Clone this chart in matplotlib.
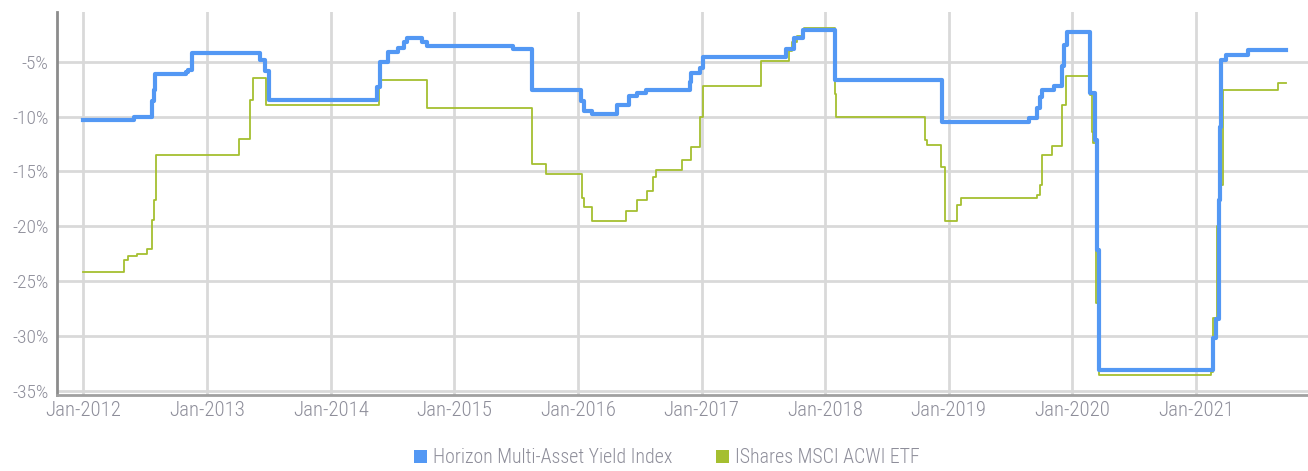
import matplotlib
matplotlib.use("Agg")
import matplotlib.pyplot as plt
import matplotlib.dates as mdates
from matplotlib.patches import Patch
import pandas as pd

plt.rcParams['font.family'] = ['Roboto Condensed', 'Liberation Sans Narrow', 'Roboto', 'DejaVu Sans']
plt.rcParams['font.weight'] = 'light'

series_names = ["Horizon Multi-Asset Yield Index", "IShares MSCI ACWI ETF"]

horizon_dates = [
    "2012-01-01", "2012-05-29", "2012-07-22", "2012-07-27", "2012-07-30", "2012-10-30",
    "2012-11-06", "2012-11-17", "2013-06-07", "2013-06-20", "2013-07-01", "2014-05-19",
    "2014-05-27", "2014-06-18", "2014-07-20", "2014-08-04", "2014-08-15", "2014-09-27",
    "2014-10-12", "2015-06-25", "2015-08-18", "2016-01-11", "2016-01-18", "2016-02-13",
    "2016-04-27", "2016-05-30", "2016-06-25", "2016-07-20", "2016-11-27", "2016-12-02",
    "2016-12-27", "2017-01-04", "2017-09-06", "2017-10-01", "2017-10-27", "2018-01-30",
    "2018-12-13", "2019-08-27", "2019-09-20", "2019-09-27", "2019-10-05", "2019-11-07",
    "2019-12-02", "2019-12-09", "2019-12-16", "2020-02-24", "2020-03-08", "2020-03-14",
    "2020-03-20", "2021-02-19", "2021-02-28", "2021-03-10", "2021-03-13", "2021-03-17",
    "2021-03-30", "2021-06-05", "2021-09-24",
]
horizon_values = [
    -10.3, -10.05, -8.6, -7.6, -6.1, -5.95,
    -5.7, -4.2, -4.8, -5.8, -8.5, -7.25,
    -5.0, -4.1, -3.7, -3.2, -2.8, -3.15,
    -3.55, -3.8, -7.6, -8.6, -9.5, -9.8,
    -8.9, -8.1, -7.85, -7.6, -6.8, -6.0,
    -5.6, -4.6, -3.85, -2.8, -2.1, -6.65,
    -10.5, -10.15, -9.2, -8.2, -7.6, -7.2,
    -5.4, -3.45, -2.3, -7.85, -12.1, -22.2,
    -33.1, -30.2, -28.5, -17.6, -10.9, -4.8,
    -4.35, -3.9, -3.9,
]

acwi_dates = [
    "2012-01-01", "2012-05-01", "2012-05-13", "2012-06-08", "2012-07-08", "2012-07-22",
    "2012-07-28", "2012-08-03", "2013-04-06", "2013-05-08", "2013-05-15", "2013-06-25",
    "2014-05-23", "2014-10-12", "2015-08-20", "2015-09-28", "2016-01-13", "2016-01-19",
    "2016-02-13", "2016-05-22", "2016-06-25", "2016-07-24", "2016-08-11", "2016-08-18",
    "2016-11-03", "2016-12-02", "2016-12-28", "2017-01-04", "2017-06-24", "2017-09-16",
    "2017-09-24", "2017-10-10", "2017-10-31", "2018-01-30", "2018-02-03", "2018-10-23",
    "2018-10-30", "2018-12-09", "2018-12-20", "2019-01-27", "2019-02-06", "2019-09-20",
    "2019-09-27", "2019-10-05", "2019-11-03", "2019-12-02", "2019-12-13", "2020-02-24",
    "2020-02-28", "2020-03-04", "2020-03-10", "2020-03-21", "2021-02-13", "2021-02-21",
    "2021-03-03", "2021-03-11", "2021-03-22", "2021-09-01", "2021-09-24",
]
acwi_values = [
    -24.2, -23.1, -22.7, -22.55, -22.1, -19.4,
    -17.6, -13.5, -12.0, -8.5, -6.5, -8.9,
    -6.7, -9.2, -14.3, -15.2, -17.4, -18.2,
    -19.5, -18.6, -17.6, -16.75, -15.5, -14.9,
    -14.0, -12.8, -10.0, -7.2, -4.9, -4.0,
    -3.2, -2.6, -1.95, -7.9, -10.0, -12.1,
    -12.6, -14.6, -19.5, -18.1, -17.4, -17.15,
    -16.2, -13.5, -12.7, -8.9, -6.3, -8.0,
    -11.4, -12.4, -27.0, -33.55, -33.3, -28.4,
    -20.0, -16.2, -7.55, -6.9, -6.9,
]

y_ticks = [-35, -30, -25, -20, -15, -10, -5]
x_tick_years = list(range(2012, 2022))

blue = '#5398f4'
green = '#a5bf30'
tick_color = '#8e8e9a'

fig = plt.figure(figsize=(13.08, 4.71), dpi=100)
ax = fig.add_axes([0.0436, 0.1614, 0.9564, 0.8131])

ax.plot(pd.to_datetime(acwi_dates), acwi_values, drawstyle='steps-post',
        color=green, lw=1.3, zorder=3)
ax.plot(pd.to_datetime(horizon_dates), horizon_values, drawstyle='steps-post',
        color=blue, lw=3.0, zorder=4)

ax.set_ylim(-35.4, -0.45)
ax.set_xlim(pd.Timestamp("2011-10-15"), pd.Timestamp("2021-11-28"))

ax.set_yticks(y_ticks)
ax.set_yticklabels([f"{v}%" for v in y_ticks])
ax.set_xticks([pd.Timestamp(f"{y}-01-01") for y in x_tick_years])
ax.xaxis.set_major_formatter(mdates.DateFormatter('%b-%Y'))

ax.grid(True, color='#d9d9d9', lw=2.0, zorder=0)
ax.set_axisbelow(True)
ax.tick_params(axis='y', length=0, colors=tick_color, labelsize=14, pad=6)
ax.tick_params(axis='x', length=0, colors=tick_color, labelsize=15, pad=4)

for s in ['top', 'right']:
    ax.spines[s].set_visible(False)
ax.spines['left'].set_color('#8c8c8c')
ax.spines['left'].set_linewidth(2)
ax.spines['bottom'].set_color('#a0a0a0')
ax.spines['bottom'].set_linewidth(2)

handles = [Patch(facecolor=blue, edgecolor='none'), Patch(facecolor=green, edgecolor='none')]
fig.legend(handles, series_names, loc='center', bbox_to_anchor=(0.51, 0.028),
           ncol=2, frameon=False, fontsize=14.3, handlelength=0.65, handleheight=0.65,
           handletextpad=0.3, columnspacing=2.2, labelcolor=tick_color)

fig.savefig("out.png", dpi=100)
